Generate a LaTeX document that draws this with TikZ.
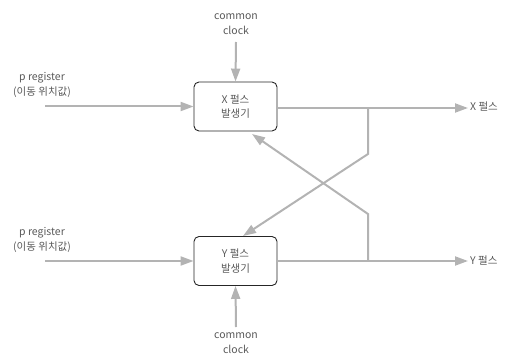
\documentclass[tikz,border=0pt]{standalone}
\usepackage{fontspec}
\setmainfont{Noto Sans CJK KR}
\usetikzlibrary{arrows.meta}
\definecolor{wire}{HTML}{B3B3B3}
\definecolor{txt}{HTML}{5A5A5A}
\tikzset{
  gen/.style={draw=black!85, line width=0.9pt, rounded corners=5pt, minimum width=83pt, minimum height=49pt, align=center, text=txt, font=\fontsize{10.5}{14.5}\selectfont},
  lbl/.style={align=center, text=txt, font=\fontsize{10.5}{14.5}\selectfont, inner sep=0pt},
  sig/.style={draw=wire, line width=2pt, -{Triangle[length=13pt,width=9pt,fill=wire]}},
}
\begin{document}
\begin{tikzpicture}[x=1pt,y=-1pt]
\useasboundingbox (0,0) rectangle (505,358);
% pulse generators
\node[gen] (xg) at (235.5,106.5) {X 펄스\\발생기};
\node[gen] (yg) at (235.5,261) {Y 펄스\\발생기};
% labels
\node[lbl] (clkx) at (236,24) {common\\clock};
\node[lbl] (clky) at (236,343) {common\\clock};
\node[lbl] (px) at (42,85) {p register\\(이동 위치값)};
\node[lbl] (py) at (42,240) {p register\\(이동 위치값)};
\node[lbl, anchor=west] (xo) at (470,107) {X 펄스};
\node[lbl, anchor=west] (yo) at (470,261) {Y 펄스};
% coordinates for wire ends and bends
\coordinate (clkxs) at (236,42);
\coordinate (clkys) at (236,327);
\coordinate (pxs) at (45,106.5);
\coordinate (pys) at (45,261);
\coordinate (xot) at (468,108);
\coordinate (yot) at (468,261);
\coordinate (xj) at (368,108);
\coordinate (xb) at (368,154);
\coordinate (yj) at (368,261);
\coordinate (yb) at (368,214);
\coordinate (ytip) at (243,236);
\coordinate (xtip) at (252,134);
% clock inputs
\draw[sig] (clkxs) -- (xg.north);
\draw[sig] (clkys) -- (yg.south);
% register inputs
\draw[sig] (pxs) -- (xg.west);
\draw[sig] (pys) -- (yg.west);
% outputs
\draw[sig] (xg.east |- xot) -- (xot);
\draw[sig] (yg.east) -- (yot);
% cross feedback
\draw[sig] (xj) -- (xb) -- (ytip);
\draw[sig] (yj) -- (yb) -- (xtip);
\end{tikzpicture}
\end{document}
